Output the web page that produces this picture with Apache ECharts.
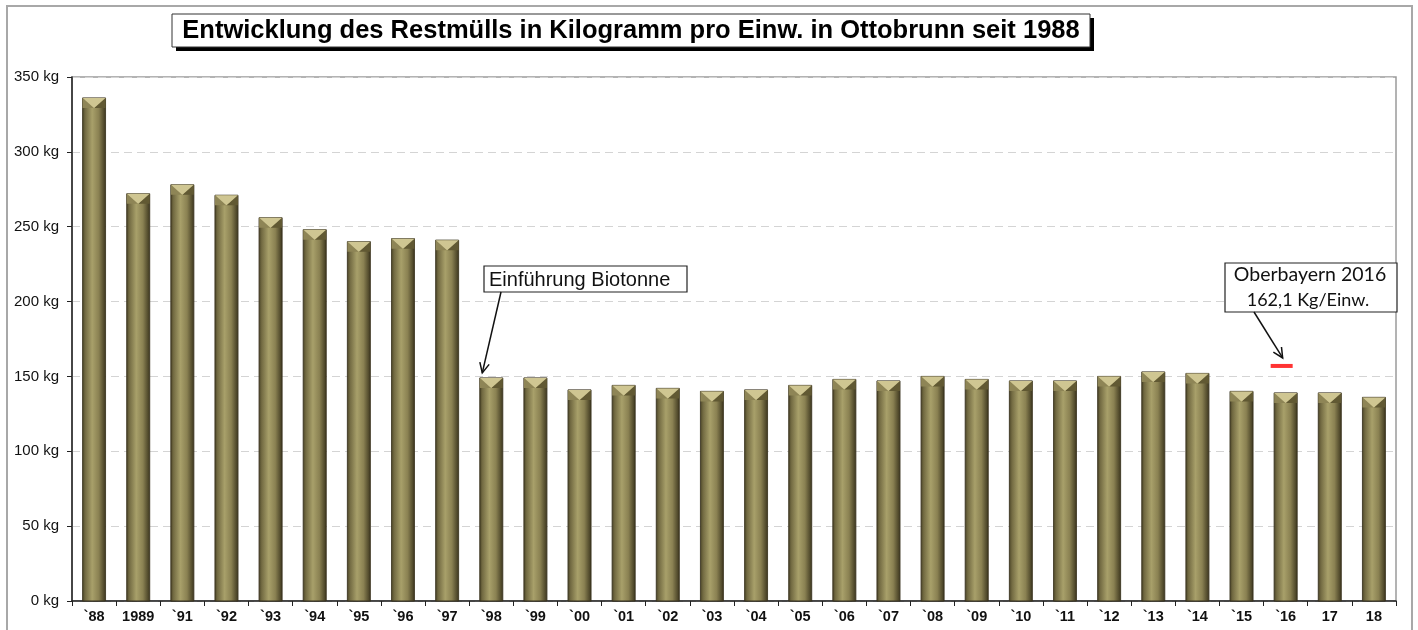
<!DOCTYPE html>
<html>
<head>
<meta charset="utf-8">
<script src="https://cdn.jsdelivr.net/npm/echarts@6/dist/echarts.min.js"></script>
<style>
html,body{margin:0;padding:0;background:#fff;}
#main{width:1418px;height:630px;}
</style>
</head>
<body>
<div id="main"></div>
<script>
const categories = ["`88","1989","`91","`92","`93","`94","`95","`96","`97","`98","`99","`00","`01","`02","`03","`04","`05","`06","`07","`08","`09","`10","`11","`12","`13","`14","`15","`16","17","18"];
const values = [336,272,278,271,256,248,240,242,241,149,149,141,144,142,140,141,144,148,147,150,148,147,147,150,153,152,140,139,139,136];
const yTicks = [0,50,100,150,200,250,300,350];
const refCategory = "`16";
const refValue = 157;
const titleText = "Entwicklung des Restmülls in Kilogramm pro Einw. in Ottobrunn seit 1988";
const note1 = "Einführung Biotonne";
const note1Category = "`98";
const note2Lines = ["Oberbayern 2016", "162,1 Kg/Einw."];

const chart = echarts.init(document.getElementById('main'), null, {renderer:'canvas'});

function barGradient(){
  return new echarts.graphic.LinearGradient(0,0,1,0,[
    {offset:0,color:'#4a4426'},
    {offset:0.12,color:'#726a42'},
    {offset:0.42,color:'#a8a06a'},
    {offset:0.7,color:'#8a8152'},
    {offset:1,color:'#3c361e'}
  ]);
}

function renderBar(params, api){
  const x = api.value(0), v = api.value(1);
  const top = api.coord([x, v]);
  const base = api.coord([x, 0]);
  const w = api.size([1,0])[0]*0.52;
  const left = top[0]-w/2, right = top[0]+w/2, cx = top[0];
  const capH = 10;
  return {type:'group', children:[
    {type:'rect', shape:{x:left,y:top[1],width:w,height:base[1]-top[1]}, style:{fill:barGradient(), stroke:'#3a3420', lineWidth:0.6}},
    {type:'polygon', shape:{points:[[left,top[1]],[cx,top[1]+capH],[left,top[1]+capH]]}, style:{fill:'#8e8556'}},
    {type:'polygon', shape:{points:[[right,top[1]],[right,top[1]+capH],[cx,top[1]+capH]]}, style:{fill:'#615933'}},
    {type:'polygon', shape:{points:[[left,top[1]],[right,top[1]],[cx,top[1]+capH]]}, style:{fill:'#cfc692'}}
  ]};
}

const option = {
  animation:false,
  backgroundColor:'#fff',
  grid:{left:72,right:22,top:77,bottom:29,show:true,borderColor:'#9a9a9a',borderWidth:1.5,containLabel:false},
  xAxis:{
    type:'category', data:categories, boundaryGap:true,
    axisLine:{lineStyle:{color:'#222',width:1.5}},
    axisTick:{show:true,alignWithLabel:false,length:5,lineStyle:{color:'#222'}},
    axisLabel:{color:'#111',fontFamily:'Liberation Sans',fontWeight:'bold',fontSize:14.5,margin:8,interval:0}
  },
  yAxis:{
    type:'value', min:0, max:350, interval:50,
    axisLine:{show:true,lineStyle:{color:'#222',width:1.5}},
    axisTick:{show:true,length:5,lineStyle:{color:'#222'}},
    axisLabel:{color:'#111',fontFamily:'Liberation Sans',fontSize:15,margin:13,formatter:v=>v+' kg'},
    splitLine:{show:true,lineStyle:{color:'#d4d4d4',type:[8,5],width:1}}
  },
  series:[
    {type:'custom', renderItem:renderBar, data:values.map((v,i)=>[i,v]), encode:{x:0,y:1}, z:3},
    {type:'scatter', data:[[refCategory, refValue]], symbol:'rect', symbolSize:[22,4], symbolOffset:[-4,0], itemStyle:{color:'#ff0000'}, z:4}
  ]
};
chart.setOption(option);

function arrow(x1,y1,x2,y2){
  const ang = Math.atan2(y2-y1,x2-x1);
  const L = 11, a = 0.45;
  const p1 = [x2-L*Math.cos(ang-a), y2-L*Math.sin(ang-a)];
  const p2 = [x2-L*Math.cos(ang+a), y2-L*Math.sin(ang+a)];
  return [
    {type:'line', shape:{x1:x1,y1:y1,x2:x2,y2:y2}, style:{stroke:'#111',lineWidth:1.5}, z:10},
    {type:'polyline', shape:{points:[p1,[x2,y2],p2]}, style:{stroke:'#111',lineWidth:1.5,fill:null}, z:10}
  ];
}

const t1 = chart.convertToPixel({xAxisIndex:0,yAxisIndex:0},[note1Category, values[categories.indexOf(note1Category)]]);
const t2 = chart.convertToPixel({xAxisIndex:0,yAxisIndex:0},[refCategory, refValue]);

const graphics = [
  {type:'rect', shape:{x:7,y:6,width:1405,height:630}, style:{fill:null,stroke:'#a8a8a8',lineWidth:2}, z:1, silent:true},
  {type:'rect', shape:{x:176,y:18,width:918,height:33}, style:{fill:'#000'}, z:10},
  {type:'rect', shape:{x:172,y:14,width:918,height:33}, style:{fill:'#fff',stroke:'#333',lineWidth:1}, z:11},
  {type:'text', x:631, y:31, style:{text:titleText, fill:'#000', font:'bold 25.5px "Liberation Sans"', align:'center', verticalAlign:'middle'}, z:12},
  {type:'rect', shape:{x:484,y:266,width:203,height:26}, style:{fill:'#fff',stroke:'#222',lineWidth:1.2}, z:10},
  {type:'text', x:489, y:280, style:{text:note1, fill:'#111', font:'20px "Liberation Sans"', align:'left', verticalAlign:'middle'}, z:11},
  {type:'rect', shape:{x:1225,y:263,width:172,height:49}, style:{fill:'#fff',stroke:'#222',lineWidth:1.2}, z:10},
  {type:'text', x:1310, y:275, style:{text:note2Lines[0], fill:'#111', font:'19.5px Lato', align:'center', verticalAlign:'middle'}, z:11},
  {type:'text', x:1308, y:300, style:{text:note2Lines[1], fill:'#111', font:'18px Lato', align:'center', verticalAlign:'middle'}, z:11}
].concat(
  arrow(501,292,t1[0]-9,t1[1]-5),
  arrow(1254,312,t2[0]-3,t2[1]-8)
);
chart.setOption({graphic:graphics});
</script>
</body>
</html>
